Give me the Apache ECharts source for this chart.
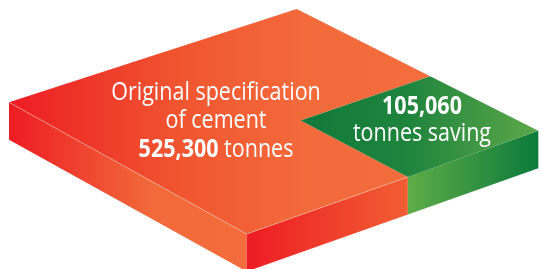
<!doctype html>
<html>
<head>
    <meta charset="UTF-8">
    <title>Cement saving</title>
    <script src="https://cdn.jsdelivr.net/npm/echarts@6/dist/echarts.min.js"></script>
</head>
<body style="margin: 0; background: #fff">
<div id="main" style="width: 542px; height: 269px"></div>
<script type="text/javascript">
    var categories = ['Original specification of cement', 'tonnes saving'];
    var tonnes = [525300, 105060];

    // top face corners of the slab (px) and its thickness
    var slab = {
        left: [9, 102.3],
        back: [296.7, 9],
        right: [538.3, 130.7],
        front: [246.7, 234],
        depth: 37.5
    };
    // where the two labels sit (centre x, middle of first line)
    var labelPos = [[216, 92.5], [422, 106.5]];
    var FONT = '"Open Sans", "Noto Sans", sans-serif';

    function fmt(v) {
        return v.toLocaleString('en-US');
    }
    function mix(p, q, s) {
        return [p[0] + (q[0] - p[0]) * s, p[1] + (q[1] - p[1]) * s];
    }
    // s runs left->back (and front->right), t runs left->front (and back->right)
    function at(s, t) {
        return mix(mix(slab.left, slab.back, s), mix(slab.front, slab.right, s), t);
    }
    function down(p) {
        return [p[0], p[1] + slab.depth];
    }
    function hgrad(stops) {
        return new echarts.graphic.LinearGradient(0, 0, 1, 0, stops.map(function (c) {
            return {offset: c[0], color: c[1]};
        }));
    }
    function poly(points, fill) {
        return {type: 'polygon', shape: {points: points}, style: {fill: fill}};
    }
    function line(x, y, text, scale) {
        return {
            type: 'text', x: x, y: y, scaleX: scale,
            style: {
                text: text, fill: '#fff', fontSize: 25, fontFamily: FONT,
                align: 'center', verticalAlign: 'middle',
                rich: {b: {fontSize: 25, fontFamily: FONT, fontWeight: 'bold', fill: '#fff'}}
            }
        };
    }

    var myChart = echarts.init(document.getElementById('main'));

    var option = {
        backgroundColor: '#fff',
        animation: false,
        series: [{
            type: 'custom',
            coordinateSystem: 'none',
            silent: true,
            data: categories.map(function (c, i) {
                return {name: c, value: tonnes[i]};
            }),
            renderItem: function (params, api) {
                // saving drawn as a square corner of the slab, its area = share of the total
                var k = 1 - Math.sqrt(tonnes[1] / tonnes[0]);
                var L = at(0, 0), B = at(1, 0), R = at(1, 1), F = at(0, 1);
                var A = at(k, k), E1 = at(1, k), E2 = at(k, 1);
                var p = labelPos[params.dataIndex];
                var children;
                if (params.dataIndex === 0) {
                    children = [
                        poly([L, F, down(F), down(L)],
                            hgrad([[0, '#ED1C24'], [0.6, '#F26A3A'], [1, '#F36C3B']])),
                        poly([F, E2, down(E2), down(F)],
                            hgrad([[0, '#ED1C24'], [1, '#F15F33']])),
                        poly([L, B, E1, A, E2, F],
                            hgrad([[0, '#ED1C24'], [0.4, '#F05530'], [0.7, '#F36A3B'], [1, '#F36D3D']])),
                        {
                            type: 'polyline', shape: {points: [L, F, E2]},
                            style: {stroke: 'rgba(255,215,190,0.55)', lineWidth: 0.8, fill: null}
                        },
                        line(p[0], p[1], 'Original specification', 0.86),
                        line(p[0], p[1] + 28.5, 'of cement', 0.86),
                        line(p[0], p[1] + 57, '{b|' + fmt(tonnes[0]) + '} tonnes', 0.86)
                    ];
                } else {
                    children = [
                        poly([E2, R, down(R), down(E2)],
                            hgrad([[0, '#5EAC48'], [1, '#0B7A3A']])),
                        poly([A, E1, R, E2],
                            hgrad([[0, '#11793A'], [0.45, '#1F843D'], [1, '#5CA84A']])),
                        line(p[0], p[1], '{b|' + fmt(tonnes[1]) + '}', 0.86),
                        line(p[0], p[1] + 27, 'tonnes saving', 0.86)
                    ];
                }
                return {type: 'group', children: children};
            }
        }]
    };
    myChart.setOption(option);
</script>
</body>
</html>
